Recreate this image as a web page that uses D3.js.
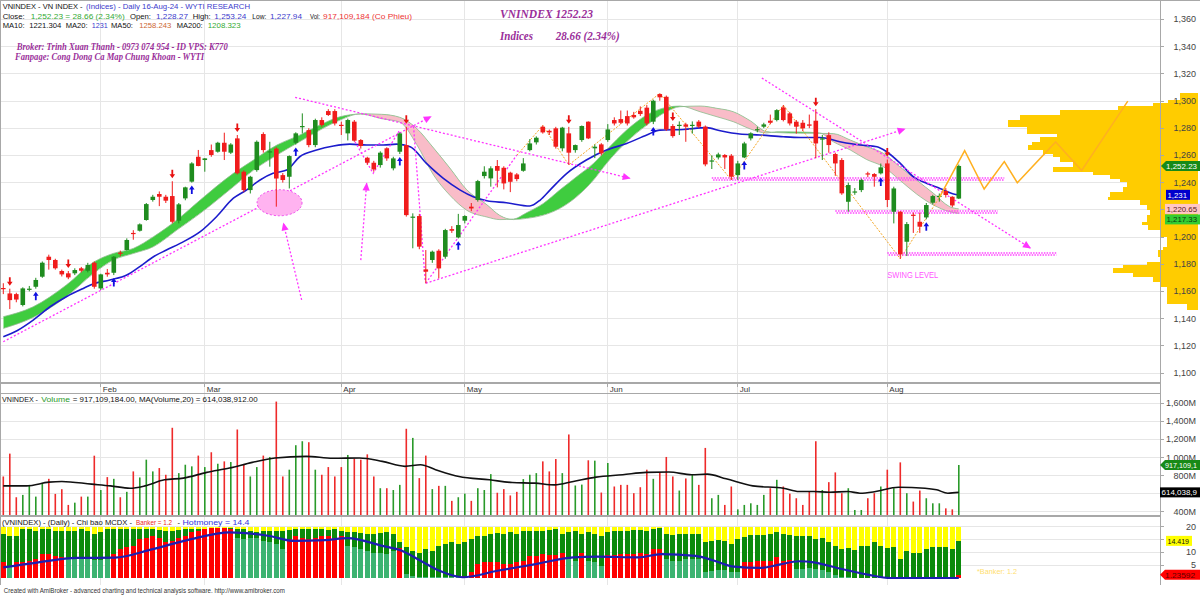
<!DOCTYPE html>
<html><head><meta charset="utf-8">
<script src="https://cdn.jsdelivr.net/npm/d3@7"></script>
<style>body{margin:0;background:#fff}svg{display:block}text{font-family:"Liberation Sans",Arial,sans-serif}</style>
</head><body><svg id="c" width="1200" height="595"></svg>
<script>
// ---------------- DATA ----------------
const monthLabels = ["Feb","Mar","Apr","May","Jun","Jul","Aug"];
const monthIndex  = [15,31,52,71,93,113,136];
const priceGrid = [1100,1120,1140,1160,1180,1200,1220,1240,1260,1280,1300,1320,1340,1360];
const priceTicks = [1100,1120,1140,1160,1180,1200,1240,1260,1280,1300,1320,1340,1360]; // 1,220 hidden under a tag
const volTicks = [400,800,1000,1200,1400,1600];
const volTickLabels = ["400M","800M","1,000M","1,200M","1,400M","1,600M"];
const volGrid = [400,600,800,1000,1200,1400,1600];
const mcdxTicks = [5,10,20];
const mcdxGrid = [5,10,15,20];

const open = [1162.5,1158.5,1158,1150,1161.5,1163.4,1170.8,1185.5,1183.1,1175,1173.3,1173.3,1177,1175.2,1181.1,1162.2,1173.7,1173.7,1188.5,1190.4,1203,1204.6,1212.5,1227.2,1231.6,1229.6,1230.1,1212,1228.4,1240.7,1259,1256.6,1263.9,1262.7,1269.3,1262,1272.5,1248,1234.5,1249.2,1275.7,1262.5,1265,1245.5,1244.3,1269.3,1281.3,1278.6,1267.6,1286,1292.6,1292.6,1282.5,1276.2,1284.8,1271.3,1258.3,1254.6,1252.9,1265.2,1250.5,1262.7,1267.6,1214.6,1215.4,1176.2,1183.1,1189.9,1185.5,1205.8,1199.7,1212,1222.3,1227.2,1244.8,1243.1,1252.2,1250.9,1247.3,1246,1248.7,1263.9,1269.6,1281.1,1278.1,1279.9,1265.2,1276.2,1263.9,1271.3,1284.8,1265.2,1268.1,1271.3,1286,1286.7,1288.9,1289.7,1292.8,1295.1,1284.8,1305.1,1303.1,1281.6,1282.3,1282.8,1282.2,1284.8,1281.1,1256,1258.5,1260.3,1259.8,1245.5,1258.5,1272.5,1279,1281.1,1285.5,1286,1295.3,1290.9,1284.8,1284,1282.8,1285.5,1272.3,1274.9,1261,1256.6,1225.9,1233.2,1234.5,1246.8,1246.3,1246.8,1254.1,1218.6,1218.6,1196.5,1216.4,1211.2,1214.4,1225.2,1230,1233.8,1229.6,1228.27];
const high = [1166,1162,1159,1163,1164,1170,1182,1187,1184,1176,1175,1177,1178,1181,1182,1173,1176.5,1186,1190,1199,1205,1210,1225,1231,1233.5,1231,1241,1225,1237,1255,1264,1258,1268,1270,1276.7,1269,1275,1249,1245,1271,1277,1270,1266,1247,1260,1277,1290.9,1280,1287,1288,1294,1294,1284.8,1287,1286,1272,1259,1256,1263,1266,1259,1277,1281,1217.4,1217,1190.4,1190,1191,1206,1208,1217,1216,1225,1242,1252,1252,1256.6,1252,1248,1247,1258,1272,1274,1282,1279,1281,1281,1281,1268,1282,1285,1268,1269,1283,1288,1293,1293,1292,1296,1297,1301,1305.6,1304,1283,1285,1284,1285,1286,1282,1260,1262,1261,1261,1256,1270,1277,1281,1284,1290,1294,1297,1292,1286,1286,1290,1294,1275,1277,1262,1258,1240,1236,1243,1248,1247,1254,1257,1237,1219,1211,1218,1218,1225,1231,1232,1236,1230,1253.24];
const low = [1158,1147,1152,1149,1160,1162,1170,1176,1176,1171,1169,1172,1174,1174,1162,1161,1170.8,1172,1186,1190,1198,1204,1212,1226,1222.7,1225,1210,1210,1227,1240,1252,1248,1259,1262,1256.6,1261,1246,1233,1232,1248,1262,1251.7,1222.3,1240,1235.7,1268,1276.2,1266,1266,1281,1289,1282,1275,1271,1270,1265,1253,1248,1251,1256,1249,1261,1215,1191.7,1191,1165.9,1181,1169.6,1184,1203,1199,1210,1219,1226,1243,1237,1236.5,1235,1233,1241,1248,1263,1268,1276,1275,1265,1263,1253,1262,1270,1272,1258,1260,1270,1282,1283,1282,1287,1289,1282,1283,1300.2,1278,1273,1275,1270,1276,1280,1252,1250,1257,1250,1242,1242,1258,1271,1277,1280,1283,1285,1285,1282,1276,1278,1280,1258,1256.6,1262,1245,1231,1218.6,1231,1233,1244,1237,1246,1222,1210,1184,1186,1203,1203,1213,1224,1226,1229,1222,1227.94];
const close = [1161.9,1153.6,1154,1162.2,1162,1168.4,1181.1,1183.1,1177,1172.5,1170.3,1175.7,1175.2,1179.4,1163.4,1172.5,1172.5,1185.5,1188,1197.8,1202.5,1209.3,1224.2,1229.6,1229.6,1226.7,1211.2,1224,1236.5,1254.1,1252.2,1257.8,1260.3,1269.3,1262.7,1268,1246.8,1234.5,1244.3,1270,1263.9,1263,1243,1241.9,1259.5,1276.2,1281.6,1267.6,1286,1282.3,1289.7,1283.5,1282.2,1286,1270.8,1266.9,1254.6,1249.7,1262,1257.8,1257.8,1276.2,1216.1,1215,1192.9,1174.5,1189.2,1176.9,1205.1,1204.6,1208.8,1215.4,1221,1241.1,1248,1250.5,1248.7,1239.4,1240.6,1242.6,1254.1,1268.8,1273,1276.9,1276.9,1266.4,1280.4,1262,1267.6,1281.6,1272.5,1266.4,1261.5,1279.1,1283.5,1284,1283.5,1288,1290.4,1283.5,1300.2,1302.7,1279.1,1274.2,1282.5,1281.1,1282.5,1281.1,1253.4,1256.3,1260.7,1258.5,1244.3,1254.1,1268.8,1276.2,1279.3,1282.8,1284,1293.3,1286,1283.5,1281.1,1279.9,1281.8,1268.8,1272.5,1267.6,1254.1,1232.1,1238.2,1233.5,1241.9,1246,1244.3,1251.2,1227.2,1235.7,1187.2,1209.5,1216,1207.6,1223.5,1230.1,1230.3,1230.9,1223.2,1252.23];
const volume = [790,1043,560,586,697,567,720,764,597,649,475,500,567,567,1020,640,783,764,560,620,846,779,976,846,883,809,1329,827,920,902,1021,894,1058,931,957,950,1310,920,790,894,1021,1006,1619,790,865,1136,1180,1169,865,809,894,790,894,1028,987,976,1035,790,660,660,640,697,1318,1217,772,1021,650,686,686,520,560,600,520,660,640,816,610,650,580,620,761,809,827,957,846,983,827,1255,690,700,969,965,612,939,679,697,697,605,671,865,764,839,1006,790,634,768,816,697,1106,549,586,475,679,426,475,493,475,586,660,753,679,600,549,475,620,1180,640,727,835,605,660,419,419,549,605,679,865,660,946,605,512,634,549,493,493,437,426,917.1];
const volMaIdx = [0,3.6,7,9,13.6,16.5,19.5,21.8,24.8,27.7,31.3,34.8,38.3,41.8,46.6,50.7,54.8,58.3,61.8,64.2,66.5,70.1,74.8,78.3,81.8,84.8,87.7,91.2,95.3,98.9,102.4,105.9,108.3,111.2,115.3,120,122.4,124.7,127.1,130,131.8,134.2,137.7,141.8,143.6,145.3,147];
const volMaVal = [686,686,727,735,705,686,660,686,753,772,835,883,946,995,1013,991,995,957,902,920,865,790,753,723,716,697,735,783,809,835,839,809,816,764,686,660,623,623,616,623,605,623,671,660,642,605,614];

const ma20Idx = [0,2.1,4.6,7.2,9.7,12.3,13.8,16.4,19,21,23.1,25.1,27.2,30.3,32.8,35.4,37.4,39.5,41.5,43.6,45.6,48.2,50.8,53.3,55.9,58.5,60.5,62.6,65.1,67.7,70.3,72.3,74.4,77.4,81,82.6,84.1,86.7,89.7,92.8,95.9,99,101,104.6,108.2,110.3,113.3,116.4,120,122.6,125.6,128.7,131.8,134.4,135.9,138,140,142.1,144.1,146.2,147];
const ma20Val = [1126.7,1131.1,1138.9,1148.7,1156.1,1162.2,1165.4,1168.4,1172,1178.2,1185.5,1190.4,1195.3,1203.9,1214.9,1228.5,1234.5,1241.9,1246.8,1249.2,1259,1263.9,1266.9,1268.3,1267.6,1267.6,1268.3,1266.4,1254.1,1243.1,1234.5,1229.6,1226.7,1225.2,1222.8,1227.2,1234.5,1246.8,1256.6,1263.9,1268.8,1275,1278.6,1279.1,1280.4,1278.1,1275.7,1275,1273.7,1273.2,1273.2,1270.1,1267.6,1266.4,1262.7,1254.1,1244.3,1239.4,1235.7,1231.6,1231];

const ribbonIdx = [0,4.6,9.7,13.9,16.9,20,23.1,26.7,30.3,35.4,38.5,42.1,45.6,48.7,51.8,55,58.2,61,63.6,66.2,68.7,71.3,74.4,76.4,78.5,80.5,83.1,85.6,88.2,90.8,92.8,95.9,99,102,104.1,107.2,109.8,112.3,114.9,117.4,119,122.6,125.6,127.7,130.3,132.8,135.4,137.9,140.5,143.1,145.6,147];
const ribbonFast = [1141.4,1148.7,1164.7,1181.5,1187.9,1191.6,1200.2,1212.5,1227.2,1246.8,1256.6,1267.6,1274.9,1282.3,1288.4,1290.4,1287,1284.5,1268,1245.5,1230.7,1219.7,1214.7,1212.8,1213.2,1217.8,1224.7,1234.5,1244.3,1254.1,1263.9,1278.6,1289.7,1295.3,1296.3,1292.1,1288.4,1284.8,1279.5,1276.5,1277.3,1277.2,1276.5,1270,1264,1257,1251.7,1241.9,1231.6,1223.5,1218.6,1217.33];
const ribbonSlow = [1132.8,1140.9,1156.1,1173.3,1183,1187.9,1192.9,1205.1,1217.4,1237,1249.2,1260.3,1270.1,1278.6,1286,1290.6,1290.2,1288,1279.8,1265.4,1250.7,1234.7,1223.7,1215.8,1212.8,1213.7,1216.1,1221,1229.6,1241.9,1254.1,1270,1282.3,1292.1,1295.8,1296.3,1294.6,1292.1,1285.5,1277.5,1276.8,1276.3,1276.2,1276,1271.3,1266.4,1261.5,1251.7,1241.9,1232.1,1222.3,1220.65];

const sellSignals = [1,10,26,36,62,87,103,125,136];
const buySignals = [5,17,29,45,61,70,100,114,135,142];

const zigzagIdx = [79,83,87,101,112,120,138,144];
const zigzagVal = [1260,1282,1253,1305.6,1242,1297,1184,1229];
const projIdx = [144,147.9,150.9,154,156,161.9,165.9,173];
const projVal = [1229,1263.5,1235.3,1255.4,1239.9,1269.9,1248.9,1299.9];

const trendLines = [
  {pts:[[0,1123],[65.8,1288.6]], arrow:true},
  {pts:[[44.9,1302.7],[96.4,1243.2]], arrow:true},
  {pts:[[65,1166],[138.7,1279.4]], arrow:true},
  {pts:[[116.7,1316.9],[158,1191.9]], arrow:true},
  {pts:[[53.8,1272.6],[56.9,1246.8],[61,1278.7]], arrow:false},
  {pts:[[55,1183],[55.9,1239.5]], arrow:true},
  {pts:[[45.9,1153.7],[43.1,1210.1]], arrow:true},
  {pts:[[64.9,1168.4],[63.1,1282.4]], arrow:false},
  {pts:[[65,1166],[79,1260.3]], arrow:false}
];
const ellipseMark = {i:42.5, p:1225.2, di:3.46, dp:9.6};
const supportStart = [109,128,136];
const supportEnd   = [154,153,162];
const supportPrice = [1242.6,1218.4,1187.5];

const profileLevels = [1306.1,1300.7,1298.3,1296,1293.4,1289.7,1286,1281.1,1276.2,1273.8,1270.1,1267.6,1264,1261.5,1259.1,1255.4,1251.7,1248.1,1245.6,1243.2,1240.7,1237,1233.4,1229.7,1227.2,1223.5,1219.9,1216.2,1211.3,1208.8,1205.1,1200.2,1192.9,1190.4,1185.5,1181.8,1179.4,1176.9,1173.8,1170.8,1167.2,1163.5,1151.2,1146.3];
const profileVol = [9.5,15.8,23.7,42.1,72.6,93.7,100,90,74.2,83.2,87.4,89.5,81.6,76.3,72.6,65.8,76.3,55.3,46.3,41.1,37.4,39.5,46.3,47.4,30.5,26.8,25.3,26.8,29.5,26.3,20,16.3,18.4,21.1,20,26.8,39.5,44.7,34.2,23.7,20,16.3,5.8];

const hotmoney = [17.0,16.4,16.4,19.0,19.0,18.3,19.0,19.0,18.3,18.3,18.3,18.3,19.0,18.3,17.0,17.7,19.0,19.0,19.0,19.0,19.0,19.0,19.0,19.0,18.6,18.3,18.1,18.6,19.0,19.0,19.0,19.0,19.6,19.6,19.6,19.6,19.2,19.0,18.3,17.7,18.3,18.3,18.1,18.3,18.6,19.0,19.0,19.0,19.0,19.0,18.6,19.0,18.3,17.7,17.7,17.3,17.0,17.0,17.3,17.7,17.0,13.8,11.9,10.6,9.9,11.2,10.6,12.5,13.2,13.8,13.2,13.8,15.1,16.4,16.4,17.0,17.3,17.0,17.7,17.0,18.3,18.3,18.3,18.3,18.6,19.0,17.0,17.7,18.3,17.0,17.7,17.0,16.4,17.7,18.3,18.3,18.1,18.6,18.6,18.1,19.2,19.6,17.0,16.6,17.0,17.0,17.0,17.0,14.1,14.4,14.7,14.4,13.2,15.1,16.0,16.6,16.6,16.6,17.0,17.7,17.0,16.8,16.4,16.4,16.4,15.1,15.5,14.1,12.5,11.2,11.5,11.0,12.5,12.5,13.8,12.5,11.5,11.9,7.4,10.3,9.9,9.9,11.2,11.9,11.9,11.9,11.2,14.419];
const banker = [6.1,4.4,6.1,6.1,6.7,7.4,9.3,9.5,8.6,8.0,7.4,7.4,7.7,7.4,7.0,7.0,7.4,9.3,11.2,11.9,12.5,15.1,15.7,16.4,15.7,13.8,14.4,15.7,16.4,17.7,18.3,19.0,19.6,19.6,19.6,19.0,15.7,15.1,15.7,15.7,14.4,13.8,13.2,11.2,15.0,16.4,15.7,15.1,15.7,16.4,16.4,15.7,16.4,12.5,11.9,11.2,10.6,9.9,9.9,9.3,10.6,11.5,1.5,0.9,0.5,0.3,0.3,0.3,0.3,0.3,0.5,0.9,2.2,5.4,6.1,6.1,6.1,5.4,5.4,6.1,6.7,8.6,8.6,9.3,9.0,9.0,9.9,7.4,6.7,9.9,6.7,6.1,4.8,9.0,9.0,9.3,9.5,9.5,9.9,9.3,11.2,11.2,7.4,6.7,6.7,7.4,7.4,7.4,2.2,2.8,3.1,3.1,2.2,2.2,6.1,6.1,6.7,6.7,6.7,8.0,6.7,7.0,3.5,3.5,3.9,3.5,3.1,2.2,1.3,0.5,0.26,0,0,0,0,0,0,0,0,0,0,0,0,0,0,0,0,1.236];
const mcdxMaIdx = [0,5.4,11.3,17.1,23,28.9,34.8,40.7,44.8,49.5,53,58.3,61.3,64.2,67.1,70.7,76,81.9,87.7,91.3,97.7,101.2,106.5,109.4,112.4,116.5,119.4,122.4,124.7,128.3,133,136.5,147];
const mcdxMaVal = [4.1,6.1,7.8,7.9,11.2,15.1,17.7,16.4,14.4,14.7,15.5,12.5,10.6,6.7,2.8,0.3,2.8,5.4,8.0,8.3,8.0,9.3,8.6,6.7,4.4,3.9,5.2,6.5,6.1,3.9,1.3,0,0];

// ---------------- SCALES ----------------
const W = 1200, AX = 1160;
const x = d3.scaleLinear().domain([0,147]).range([3.3,958.8]);
const y = d3.scaleLinear().domain([1100,1300]).range([373,101]);
const yv = d3.scaleLinear().domain([400,1600]).range([511.7,403.3]);
const ym = d3.scaleLinear().domain([0,20]).range([578,526.5]);
const mcdxMaAt = d3.scaleLinear().domain(mcdxMaIdx).range(mcdxMaVal);

const svg = d3.select('#c');
const defs = svg.append('defs');
svg.append('rect').attr('width',W).attr('height',595).attr('fill','#fff');
function clip(id,x0,y0,w,h){defs.append('clipPath').attr('id',id).append('rect').attr('x',x0).attr('y',y0).attr('width',w).attr('height',h);}
clip('cMain',0,1,AX,381); clip('cVol',0,394,AX,121.5); clip('cMc',0,517,AX,67);
defs.append('marker').attr('id','arr').attr('viewBox','0 0 10 10').attr('refX',9).attr('refY',5)
  .attr('markerWidth',9).attr('markerHeight',8).attr('markerUnits','userSpaceOnUse').attr('orient','auto')
  .append('path').attr('d','M0,0.5 L10,5 L0,9.5 Z').attr('fill','#ff33ff');

// ---------------- GRID ----------------
const grid = svg.append('g').attr('stroke','#e6e6e6').attr('stroke-width',1).attr('shape-rendering','crispEdges');
priceGrid.forEach(t=>grid.append('line').attr('x1',0).attr('x2',AX).attr('y1',y(t)).attr('y2',y(t)));
volGrid.forEach(t=>grid.append('line').attr('x1',0).attr('x2',AX).attr('y1',yv(t)).attr('y2',yv(t)));
mcdxGrid.forEach(t=>grid.append('line').attr('x1',0).attr('x2',AX).attr('y1',ym(t)).attr('y2',ym(t)));
monthIndex.forEach(i=>grid.append('line').attr('x1',x(i)).attr('x2',x(i)).attr('y1',1).attr('y2',585));

// ---------------- VOLUME PROFILE ----------------
const prof = d3.scaleLinear().domain([0,100]).range([0,190]);
const pg = svg.append('g').attr('fill','#ffcc00').attr('shape-rendering','crispEdges');
profileVol.forEach((v,k)=>{
  const y0=y(profileLevels[k]), y1=y(profileLevels[k+1]);
  pg.append('rect').attr('x',1198-prof(v)).attr('y',y0).attr('width',prof(v)).attr('height',y1-y0+0.3);
});

// ---------------- MAIN PANEL ----------------
const gm = svg.append('g').attr('clip-path','url(#cMain)');
const rib = ribbonIdx.map((d,k)=>({i:d,a:ribbonFast[k],b:ribbonSlow[k]}));
const cv = d3.curveMonotoneX;
defs.append('clipPath').attr('id','above').append('path').attr('d',d3.area().curve(cv).x(d=>x(d.i)).y0(0).y1(d=>y(d.b))(rib));
defs.append('clipPath').attr('id','below').append('path').attr('d',d3.area().curve(cv).x(d=>x(d.i)).y0(400).y1(d=>y(d.b))(rib));
const band = d3.area().curve(cv).x(d=>x(d.i)).y0(d=>y(d.b)).y1(d=>y(d.a));
gm.append('g').attr('clip-path','url(#above)').append('path').attr('d',band(rib)).attr('fill','#3fcc3f');
gm.append('g').attr('clip-path','url(#below)').append('path').attr('d',band(rib)).attr('fill','#f9bcc8');
const la = d3.line().curve(cv).x(d=>x(d.i));
gm.append('path').attr('d',la.y(d=>y(d.a))(rib)).attr('fill','none').attr('stroke','#8dbb8d').attr('stroke-width',0.8);
gm.append('path').attr('d',la.y(d=>y(d.b))(rib)).attr('fill','none').attr('stroke','#8dbb8d').attr('stroke-width',0.8);

gm.append('path').attr('d',d3.line().curve(cv).x((d,k)=>x(ma20Idx[k])).y(d=>y(d))(ma20Val))
  .attr('fill','none').attr('stroke','#1c1ccc').attr('stroke-width',1.6);

gm.append('path').attr('d',d3.line().x((d,k)=>x(zigzagIdx[k])).y(d=>y(d))(zigzagVal))
  .attr('fill','none').attr('stroke','#f5a623').attr('stroke-width',1).attr('stroke-dasharray','2,1.5');

trendLines.forEach(t=>{
  const p = gm.append('path').attr('d',d3.line().x(d=>x(d[0])).y(d=>y(d[1]))(t.pts))
   .attr('fill','none').attr('stroke','#ff33ff').attr('stroke-width',1.3).attr('stroke-dasharray','2,2');
  if(t.arrow) p.attr('marker-end','url(#arr)');
});
gm.append('ellipse').attr('cx',x(ellipseMark.i)).attr('cy',y(ellipseMark.p))
  .attr('rx',x(ellipseMark.i+ellipseMark.di)-x(ellipseMark.i)).attr('ry',y(ellipseMark.p-ellipseMark.dp)-y(ellipseMark.p))
  .attr('fill','#ffb3f0').attr('stroke','#ee44ee').attr('stroke-width',1).attr('stroke-dasharray','2,2');
supportPrice.forEach((p,k)=>{
  gm.append('line').attr('x1',x(supportStart[k])).attr('x2',x(supportEnd[k])).attr('y1',y(p)-1).attr('y2',y(p)-1)
    .attr('stroke','#ff44ff').attr('stroke-width',1.6).attr('stroke-dasharray','1.5,1.2');
  gm.append('line').attr('x1',x(supportStart[k])+1.3).attr('x2',x(supportEnd[k])).attr('y1',y(p)+1).attr('y2',y(p)+1)
    .attr('stroke','#ff44ff').attr('stroke-width',1.6).attr('stroke-dasharray','1.5,1.2');
});

const up='#1f8c1f', dn='#f01c1c';
close.forEach((c,i)=>{
  const o=open[i], col = c>=o?up:dn;
  gm.append('line').attr('x1',x(i)).attr('x2',x(i)).attr('y1',y(high[i])).attr('y2',y(low[i])).attr('stroke',col).attr('stroke-width',1);
  const top=y(Math.max(o,c)), h=Math.max(1.2,Math.abs(y(o)-y(c)));
  gm.append('rect').attr('x',x(i)-2.3).attr('y',top).attr('width',4.6).attr('height',h).attr('fill',col);
});
sellSignals.forEach(i=>{
  const tx=x(i), ty=y(high[i])-3;
  gm.append('path').attr('d',`M${tx},${ty} l-2.8,-4 l1.9,0 l0,-4.5 l1.8,0 l0,4.5 l1.9,0 Z`).attr('fill','#e81010');
});
buySignals.forEach(i=>{
  const tx=x(i), ty=y(low[i])+3;
  gm.append('path').attr('d',`M${tx},${ty} l-2.8,4 l1.9,0 l0,4.5 l1.8,0 l0,-4.5 l1.9,0 Z`).attr('fill','#1010e0');
});
svg.append('path').attr('d',d3.line().x((d,k)=>x(projIdx[k])).y(d=>y(d))(projVal))
  .attr('fill','none').attr('stroke','#ffb020').attr('stroke-width',1.5);
gm.append('text').attr('x',x(136)).attr('y',y(1187.5)+24).attr('font-size',9).attr('fill','#ff55ff').text('SWING LEVEL')
  .attr('textLength',51).attr('lengthAdjust','spacingAndGlyphs');

// ---------------- VOLUME ----------------
const gv = svg.append('g').attr('clip-path','url(#cVol)');
volume.forEach((v,i)=>{
  const col = close[i]>=open[i]?'#2a9a2a':'#ee2a2a';
  gv.append('rect').attr('x',x(i)-0.8).attr('y',yv(v)).attr('width',1.6).attr('height',Math.max(0,516-yv(v))).attr('fill',col);
});
gv.append('path').attr('d',d3.line().curve(cv).x((d,k)=>x(volMaIdx[k])).y(d=>yv(d))(volMaVal))
  .attr('fill','none').attr('stroke','#111').attr('stroke-width',1.6);

// ---------------- MCDX ----------------
const gc = svg.append('g').attr('clip-path','url(#cMc)').attr('shape-rendering','crispEdges');
hotmoney.forEach((h,i)=>{
  const bx=x(i)-2.6;
  gc.append('rect').attr('x',bx).attr('y',ym(20)).attr('width',5.2).attr('height',ym(0)-ym(20)).attr('fill','#ffff00');
  gc.append('rect').attr('x',bx).attr('y',ym(h)).attr('width',5.2).attr('height',ym(0)-ym(h)).attr('fill','#0b8a0b');
  const b=banker[i];
  if(b>0) gc.append('rect').attr('x',bx).attr('y',ym(b)).attr('width',5.2).attr('height',ym(0)-ym(b))
     .attr('fill', b>=mcdxMaAt(i)?'#ff0000':'#3cb371');
});
svg.append('g').attr('clip-path','url(#cMc)').append('path')
  .attr('d',d3.line().curve(cv).x((d,k)=>x(mcdxMaIdx[k])).y(d=>ym(d))(mcdxMaVal))
  .attr('fill','none').attr('stroke','#1e1eb0').attr('stroke-width',2.2);

// ---------------- FRAMES / AXES ----------------
const fr = svg.append('g').attr('stroke','#a8a8a8').attr('shape-rendering','crispEdges');
fr.append('line').attr('x1',0).attr('x2',W).attr('y1',0.5).attr('y2',0.5);
fr.append('line').attr('x1',0).attr('x2',AX).attr('y1',382.5).attr('y2',382.5).attr('stroke-width',2);
fr.append('line').attr('x1',0).attr('x2',AX).attr('y1',393.5).attr('y2',393.5);
fr.append('line').attr('x1',0).attr('x2',AX).attr('y1',516).attr('y2',516).attr('stroke-width',1.5);
fr.append('line').attr('x1',AX+0.5).attr('x2',AX+0.5).attr('y1',0).attr('y2',585);
fr.append('line').attr('x1',0.5).attr('x2',0.5).attr('y1',0).attr('y2',585);
monthIndex.forEach((i,k)=>{
  fr.append('line').attr('x1',x(i)).attr('x2',x(i)).attr('y1',383).attr('y2',387);
  svg.append('text').attr('x',x(i)+2).attr('y',391.5).attr('font-size',8).attr('fill','#333').text(monthLabels[k]);
});
const ax = svg.append('g').attr('font-size',9).attr('fill','#444').attr('text-anchor','end');
priceGrid.forEach(t=>fr.append('line').attr('x1',AX).attr('x2',AX+4).attr('y1',y(t)).attr('y2',y(t)));
priceTicks.forEach(t=>ax.append('text').attr('x',1196).attr('y',y(t)+3).text(d3.format(',')(t)));
volGrid.forEach(t=>fr.append('line').attr('x1',AX).attr('x2',AX+4).attr('y1',yv(t)).attr('y2',yv(t)));
volTicks.forEach((t,k)=>ax.append('text').attr('x',1196).attr('y',yv(t)+3).text(volTickLabels[k]));
mcdxGrid.forEach(t=>fr.append('line').attr('x1',AX).attr('x2',AX+4).attr('y1',ym(t)).attr('y2',ym(t)));
mcdxTicks.forEach(t=>ax.append('text').attr('x',1196).attr('y',ym(t)+3).text(t));

// ---------------- TAGS ----------------
function tag(x0,x1,yc,fill,txt,tcol,pointed){
  const h=10, g=svg.append('g');
  if(pointed) g.append('path').attr('d',`M${x0},${yc} L${x0+5},${yc-h/2} L${x1},${yc-h/2} L${x1},${yc+h/2} L${x0+5},${yc+h/2} Z`).attr('fill',fill);
  else g.append('rect').attr('x',x0).attr('y',yc-h/2).attr('width',x1-x0).attr('height',h).attr('fill',fill);
  const tx0 = x0+(pointed?5:1.5);
  g.append('text').attr('x',tx0).attr('y',yc+3).attr('font-size',8).attr('fill',tcol).text(txt)
    .attr('textLength',Math.min(x1-tx0-3, txt.length*4.3)).attr('lengthAdjust','spacingAndGlyphs');
}
tag(1161,1200,y(1252.23),'#178a17','1,252.23','#fff',true);
tag(1166,1190,y(1231),'#0000cc','1,231','#fff',false);
tag(1165,1200,y(1220.65),'#ffc6c6','1,220.65','#5a2020',false);
tag(1165,1200,y(1220.65)+10.5,'#33cc33','1,217.33','#0c3a0c',false);
tag(1160,1200,yv(917.1),'#178a17','917,109,1','#fff',true);
tag(1160,1200,yv(614),'#000','614,038,9','#fff',false);
tag(1166,1192,ym(14.419),'#ffff00','14.419','#111',false);
tag(1160,1200,ym(1.236),'#ff0000','1.23592','#600000',true);

// ---------------- TEXTS ----------------
function line(segs,yb,size,fam,styled){
  const t=svg.append('text').attr('y',yb).attr('font-size',size);
  if(fam) t.style('font-family',fam);
  if(styled) t.attr('font-style','italic').attr('font-weight','bold');
  segs.forEach(s=>t.append('tspan').attr('x',s[1]).attr('fill',s[3]).attr('textLength',s[2]).attr('lengthAdjust','spacingAndGlyphs').text(s[0]));
}
const B='#3a3acc', G='#33aa33', K='#111';
line([["VNINDEX - VN INDEX - ",2.7,82,K],["(Indices) - Daily 16-Aug-24 - WYTI RESEARCH",86,164,B]],9,7.5);
line([["Close:",2.7,22,K],["1,252.23 = 28.66 (2.34%)",30.7,94,G],["Open:",130,21,K],["1,228.27",156,32,B],["High:",192.7,18,K],["1,253.24",214.3,32,B],["Low:",252.3,14,K],["1,227.94",270,32,B],["Vol:",310,10,K],["917,109,184 (Co Phieu)",323,89,'#ee3333']],18.5,7.5);
line([["MA10:",2.7,22,K],["1221.304",29.3,32,K],["MA20:",65.7,22,K],["1231",91.7,16,B],["MA50:",111,22,K],["1258.243",139.3,32,'#cc6633'],["MA200:",176.7,26,K],["1208.323",207.7,33,G]],28,7.5);
const P='#9a2f9a', SER='"Liberation Serif","DejaVu Serif",serif';
line([["Broker: Trinh Xuan Thanh - 0973 074 954 - ID VPS: K770",16.7,211,P]],49.5,10.5,SER,true);
line([["Fanpage: Cong Dong Ca Map Chung Khoan - WYTI",15,189,P]],59.5,10.5,SER,true);
line([["VNINDEX 1252.23",500,93,P]],17.8,13.5,SER,true);
line([["Indices",500,33,P],["28.66 (2.34%)",555.7,64,P]],40,12,SER,true);
line([["VNINDEX -",2,36,K],["Volume",41.3,28.7,'#2a9a2a'],["= 917,109,184.00, MA(Volume,20) = 614,038,912.00",72.7,185,K]],402,7);
line([["(VNINDEX) - (Daily) - Chi bao MCDX -",2,130,K],["Banker = 1.2",136,36,'#ee2222'],["-",177.5,2.5,K],["Hotmoney = 14.4",182.5,67,'#3333dd']],524.5,6.5);
line([["*Banker: 1.2",977,40,'#ffe070']],573.5,8);
line([["Created with AmiBroker - advanced charting and technical analysis software. http://www.amibroker.com",3.8,281,'#333']],592.5,7);
</script></body></html>
